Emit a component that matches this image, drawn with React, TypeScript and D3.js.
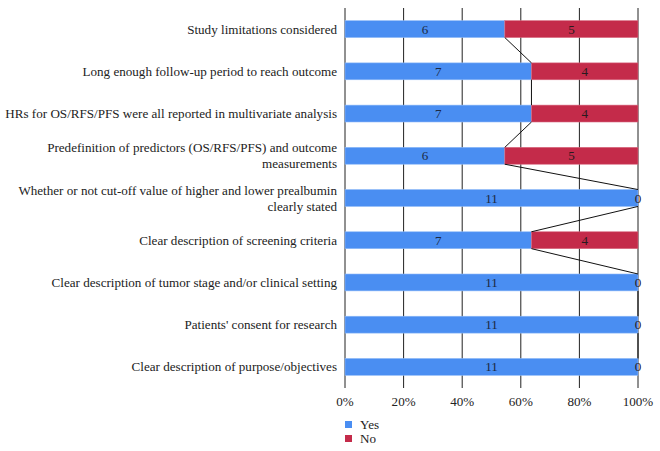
import React from "react";
import * as d3 from "d3";

const categories = [
  ["Study limitations considered"],
  ["Long enough follow-up period to reach outcome"],
  ["HRs for OS/RFS/PFS were all reported in multivariate analysis"],
  ["Predefinition of predictors (OS/RFS/PFS) and outcome", "measurements"],
  ["Whether or not cut-off value of higher and lower prealbumin", "clearly stated"],
  ["Clear description of screening criteria"],
  ["Clear description of tumor stage and/or clinical setting"],
  ["Patients' consent for research"],
  ["Clear description of purpose/objectives"],
];
const yesValues = [6, 7, 7, 6, 11, 7, 11, 11, 11];
const noValues = [5, 4, 4, 5, 0, 4, 0, 0, 0];
const xTicks = [0, 0.2, 0.4, 0.6, 0.8, 1];
const seriesNames = ["Yes", "No"];
const colors = ["#4a8ef2", "#c42b4a"];

const W = 660, H = 451;
const left = 345, right = 638, top = 8, bottom = 388;
const font = "'Liberation Serif', 'Times New Roman', serif";
const fs = 13.1;

export default function App() {
  const x = d3.scaleLinear().domain([0, 1]).range([left, right]);
  const y = d3.scaleBand<number>().domain(d3.range(categories.length)).range([top, bottom]).paddingInner(0.6).paddingOuter(0.3);
  const bw = y.bandwidth();
  const fmt = d3.format(".0%");
  const rows = categories.map((c, i) => {
    const total = yesValues[i] + noValues[i];
    return { c, i, yes: yesValues[i], no: noValues[i], p: yesValues[i] / total };
  });
  return (
    <svg width={W} height={H} style={{ position: "absolute", left: 0, top: 0 }} fontFamily={font}>
      <rect width={W} height={H} fill="#fff" />
      {xTicks.map((t) => (
        <line key={t} x1={x(t)} x2={x(t)} y1={top} y2={bottom} stroke="#222" strokeWidth={1} />
      ))}
      {rows.map((r) => {
        const y0 = y(r.i)!;
        return (
          <g key={r.i}>
            <rect x={x(0)} y={y0} width={x(r.p) - x(0)} height={bw} fill={colors[0]} stroke="#8fbaf7" strokeWidth={0.6} />
            {r.no > 0 && (
              <rect x={x(r.p)} y={y0} width={x(1) - x(r.p)} height={bw} fill={colors[1]} stroke="#d86a80" strokeWidth={0.6} />
            )}
            <text x={(x(0) + x(r.p)) / 2} y={y0 + bw / 2} dy="0.35em" textAnchor="middle" fontSize={fs} fill="#1c2a44">{r.yes}</text>
            <text x={r.no > 0 ? (x(r.p) + x(1)) / 2 : x(1)} y={y0 + bw / 2} dy="0.35em" textAnchor="middle" fontSize={fs} fill="#2a1a1e">{r.no}</text>
            {r.c.map((line, k) => (
              <text key={k} x={337} y={y0 + bw / 2 + (k - (r.c.length - 1) / 2) * 16} dy="0.35em" textAnchor="end" fontSize={fs} fill="#222">{line}</text>
            ))}
          </g>
        );
      })}
      {rows.slice(0, -1).map((r) => {
        const n = rows[r.i + 1];
        return (
          <line key={"s" + r.i} x1={x(r.p)} y1={y(r.i)! + bw} x2={x(n.p)} y2={y(n.i)!} stroke="#111" strokeWidth={1} />
        );
      })}
      {xTicks.map((t) => (
        <text key={"t" + t} x={x(t)} y={401} dy="0.35em" textAnchor="middle" fontSize={fs} fill="#222">{fmt(t)}</text>
      ))}
      {seriesNames.map((s, k) => (
        <g key={s}>
          <rect x={345} y={421 + k * 14} width={7} height={7} fill={colors[k]} />
          <text x={360} y={424.5 + k * 14} dy="0.35em" fontSize={fs} fill="#222">{s}</text>
        </g>
      ))}
    </svg>
  );
}
